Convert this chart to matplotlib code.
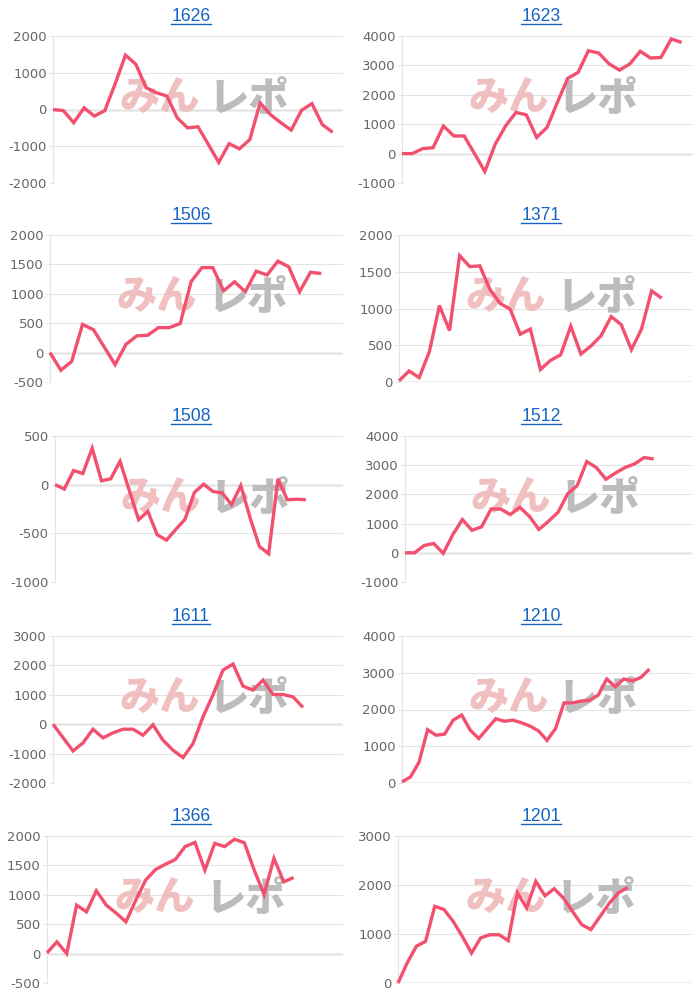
import matplotlib
matplotlib.use('Agg')
import matplotlib.pyplot as plt
import numpy as np
from matplotlib.lines import Line2D

plt.rcParams['axes.unicode_minus'] = False

# machine numbers shown as panel titles
titles = ['1626', '1623', '1506', '1371', '1508', '1512', '1611', '1210', '1366', '1201']

# daily running balance per machine
s1626 = [0, -30, -360, 45, -180, -30, 700, 1480, 1230, 590, 455, 365, -230, -500,
         -470, -950, -1440, -930, -1070, -820, 180, -140, -360, -560, -20, 160, -410, -620]
s1623 = [0, 0, 170, 200, 940, 600, 600, 0, -610, 320, 940, 1400, 1320, 550, 890,
         1740, 2560, 2760, 3500, 3420, 3050, 2840, 3050, 3480, 3250, 3270, 3900, 3780]
s1506 = [0, -300, -150, 480, 390, 95, -205, 140, 285, 295, 425, 425, 495, 1205, 1445,
         1445, 1050, 1205, 1035, 1385, 1320, 1555, 1460, 1035, 1365, 1345]
s1371 = [15, 150, 60, 410, 1040, 700, 1720, 1570, 1580, 1260, 1070, 990, 650, 720, 170,
         295, 370, 760, 380, 490, 630, 890, 780, 440, 720, 1240, 1140]
s1508 = [0, -45, 145, 115, 375, 40, 60, 240, -60, -360, -275, -515, -570, -460, -355,
         -80, 5, -70, -85, -205, -10, -340, -635, -710, 60, -155, -150, -155]
s1512 = [0, 0, 250, 320, -20, 625, 1140, 770, 890, 1500, 1500, 1310, 1560, 1250, 800,
         1080, 1390, 2020, 2300, 3125, 2920, 2520, 2730, 2920, 3045, 3260, 3215]
s1611 = [0, -455, -910, -635, -170, -465, -295, -170, -170, -375, -20, -545, -885, -1135,
         -660, 250, 1000, 1840, 2045, 1295, 1160, 1500, 1010, 1010, 930, 570]
s1210 = [30, 165, 570, 1450, 1300, 1330, 1710, 1850, 1440, 1210, 1480, 1750, 1680, 1710,
         1640, 1550, 1420, 1160, 1480, 2180, 2180, 2230, 2250, 2390, 2830, 2620, 2830,
         2780, 2870, 3100]
s1366 = [10, 200, 0, 825, 710, 1070, 825, 690, 540, 910, 1250, 1430, 1520, 1600, 1820,
         1890, 1420, 1875, 1820, 1945, 1885, 1420, 1005, 1620, 1220, 1295]
s1201 = [0, 410, 750, 850, 1565, 1500, 1260, 950, 610, 920, 985, 985, 865, 1840, 1530,
         2075, 1780, 1925, 1735, 1460, 1190, 1090, 1360, 1630, 1840, 1950]

series = [s1626, s1623, s1506, s1371, s1508, s1512, s1611, s1210, s1366, s1201]

# number of day labels on each x axis
n_days = [29, 29, 28, 30, 32, 31, 30, 35, 31, 33]

# y axis ranges (min, max, step)
y_min = [-2000, -1000, -500, 0, -1000, -1000, -2000, 0, -500, 0]
y_max = [2000, 4000, 2000, 2000, 500, 4000, 3000, 4000, 2000, 3000]
y_step = [1000, 1000, 500, 500, 500, 1000, 1000, 1000, 500, 1000]

W, H = 700, 1000
fig = plt.figure(figsize=(W / 100, H / 100), dpi=100)

line_col = '#f2506e'
grid_col = '#e4e4e4'
tick_col = '#666666'

# layout in pixels
left_px = [53, 402, 50, 399, 55, 405, 53, 402, 47, 398]
right_px = [343, 692]
top_px = [36, 235, 436, 636, 836]
bot_px = [183, 382, 582, 783, 983]
title_x = [191, 541]

title_texts = []
for i in range(10):
    r, c = divmod(i, 2)
    l = left_px[i]
    rr = right_px[c]
    t, b = top_px[r], bot_px[r]
    ax = fig.add_axes([l / W, 1 - b / H, (rr - l) / W, (b - t) / H])
    ax.set_facecolor('none')

    vals = series[i]
    ax.plot(range(len(vals)), vals, color=line_col, lw=2.4, zorder=3,
            solid_joinstyle='miter', solid_capstyle='butt', clip_on=False)

    ax.set_xlim(0, n_days[i] - 1)
    ax.set_ylim(y_min[i], y_max[i])
    ax.set_xticks([])
    ax.set_yticks(np.arange(y_min[i], y_max[i] + 1, y_step[i]))
    ax.tick_params(axis='y', length=3, width=0.8, color=grid_col, pad=1.5,
                   labelsize=9.5, labelcolor=tick_col)
    for lab in ax.get_yticklabels():
        lab.set_family('DejaVu Sans')
    ax.grid(axis='y', color=grid_col, lw=0.8, zorder=0)
    ax.axhline(0, color='#b0b0b0', lw=1.0, zorder=1)
    for sp in ['top', 'right', 'bottom']:
        ax.spines[sp].set_visible(False)
    ax.spines['left'].set_color(grid_col)
    ax.spines['left'].set_linewidth(0.8)

    # watermark logo
    ax.text(0.228, 0.575, 'みん', transform=ax.transAxes, ha='left', va='center',
            fontsize=29, fontweight='black', color='#efbaba', alpha=0.9,
            family=['Noto Sans CJK JP'], zorder=2)
    ax.text(0.538, 0.575, 'レポ', transform=ax.transAxes, ha='left', va='center',
            fontsize=29, fontweight='black', color='#b5b5b5', alpha=0.9,
            family=['Noto Sans CJK JP'], zorder=2)

    tt = fig.text(title_x[c] / W, 1 - (t - 19.5) / H, titles[i], ha='center',
                  va='center', fontsize=12.7, color='#1565c0',
                  family=['Liberation Sans'])
    title_texts.append(tt)

# underline the titles like links
fig.canvas.draw()
inv = fig.transFigure.inverted()
for tt in title_texts:
    bb = tt.get_window_extent()
    (x0, y0), (x1, _) = inv.transform([(bb.x0, bb.y0 + 1.5), (bb.x1, bb.y0)])
    fig.add_artist(Line2D([x0, x1], [y0, y0], color='#1565c0', lw=1.0))

fig.savefig('out.png', dpi=100)
